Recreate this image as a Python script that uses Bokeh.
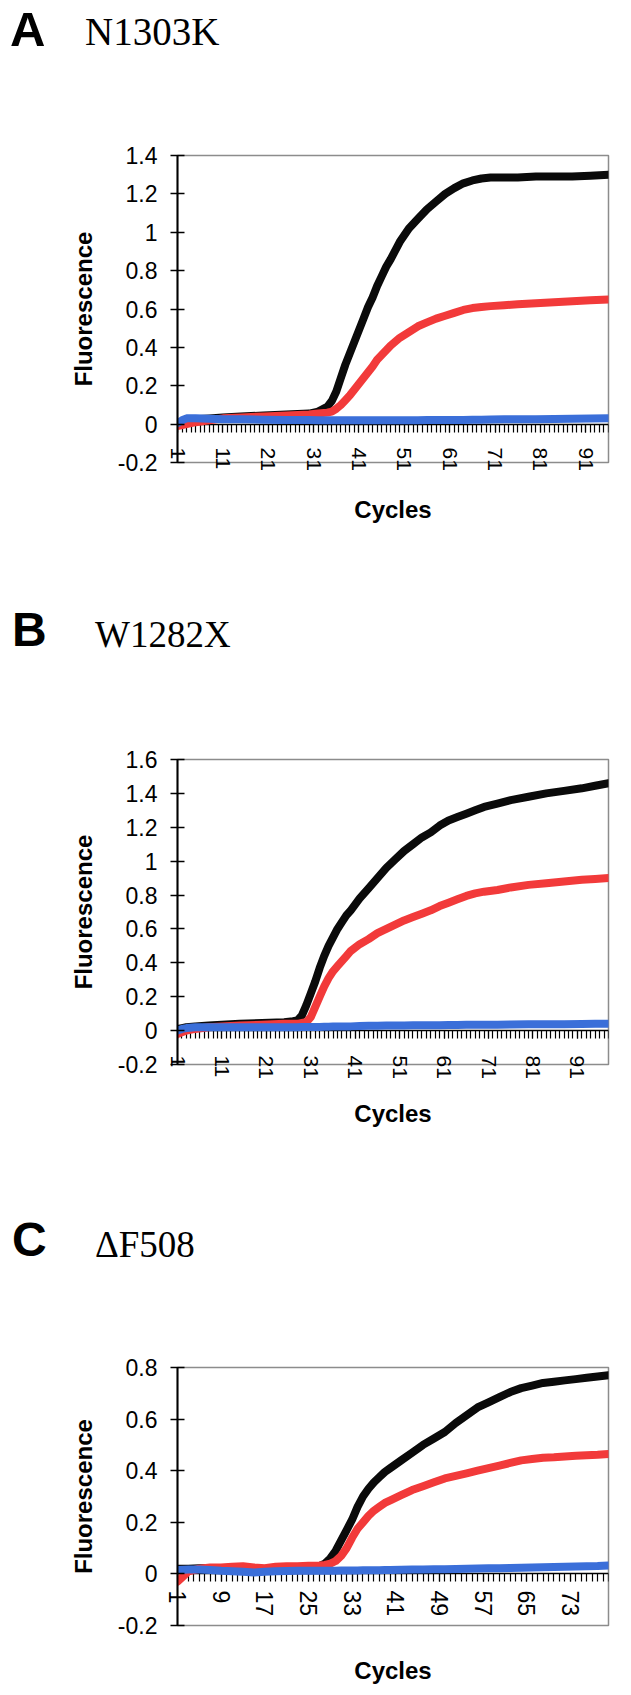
from bokeh.plotting import figure
from bokeh.models import LinearAxis, FixedTicker, CustomJSTickFormatter, Range1d, Div
from bokeh.layouts import column
from bokeh.embed import file_html
from bokeh.resources import INLINE

# ---------------- Panel A : N1303K ----------------
a_cycles = [1, 2, 3, 5, 8, 11, 15, 20, 25, 30, 32, 34, 35, 36, 37, 38, 39, 40, 41, 42,
            43, 44, 45, 46, 47, 48, 50, 52, 54, 56, 58, 60, 62, 64, 66, 68, 70, 73, 76, 80,
            84, 88, 92, 96]
a_black = [0.00, 0.01, 0.02, 0.025, 0.03, 0.035, 0.04, 0.045, 0.05, 0.055,
           0.065, 0.09, 0.12, 0.17, 0.24, 0.31, 0.37, 0.43, 0.49, 0.55,
           0.61, 0.66, 0.72, 0.77, 0.82, 0.86, 0.95, 1.02, 1.07, 1.12,
           1.16, 1.20, 1.23, 1.255, 1.27, 1.28, 1.285, 1.285, 1.285, 1.29,
           1.29, 1.29, 1.295, 1.30]
a_red = [-0.01, -0.005, 0.0, 0.01, 0.02, 0.03, 0.035, 0.04, 0.045, 0.05,
         0.055, 0.06, 0.065, 0.08, 0.10, 0.125, 0.15, 0.18, 0.21, 0.24,
         0.27, 0.30, 0.335, 0.36, 0.385, 0.41, 0.45, 0.48, 0.51, 0.53,
         0.55, 0.565, 0.58, 0.595, 0.605, 0.61, 0.615, 0.62, 0.625, 0.63,
         0.635, 0.64, 0.645, 0.65]
a_blue = [0.005, 0.02, 0.03, 0.03, 0.028, 0.026, 0.025, 0.023, 0.022, 0.021,
          0.02, 0.02, 0.02, 0.02, 0.02, 0.02, 0.02, 0.02, 0.02, 0.02,
          0.02, 0.02, 0.02, 0.02, 0.02, 0.02, 0.02, 0.02, 0.02, 0.021,
          0.021, 0.022, 0.022, 0.022, 0.023, 0.023, 0.024, 0.025, 0.025, 0.026,
          0.027, 0.028, 0.029, 0.03]
a_n_cycles = 96
a_xlabels = [1, 11, 21, 31, 41, 51, 61, 71, 81, 91]
a_yticks = [-0.2, 0, 0.2, 0.4, 0.6, 0.8, 1.0, 1.2, 1.4]

# ---------------- Panel B : W1282X ----------------
b_cycles = [1, 2, 3, 5, 8, 11, 15, 20, 25, 27, 28, 29, 30, 31, 32, 33, 34, 35, 36, 37,
            38, 39, 40, 42, 44, 46, 48, 50, 52, 54, 56, 58, 60, 62, 64, 66, 68, 70, 73, 76,
            80, 84, 88, 92, 95, 98]
b_black = [0.01, 0.015, 0.02, 0.025, 0.03, 0.035, 0.04, 0.045, 0.05, 0.055,
           0.06, 0.09, 0.15, 0.22, 0.29, 0.37, 0.44, 0.50, 0.55, 0.60,
           0.64, 0.68, 0.71, 0.78, 0.84, 0.90, 0.96, 1.01, 1.06, 1.10,
           1.14, 1.17, 1.21, 1.24, 1.26, 1.28, 1.30, 1.32, 1.34, 1.36,
           1.38, 1.40, 1.415, 1.43, 1.445, 1.46]
b_red = [-0.02, -0.01, 0.0, 0.01, 0.02, 0.025, 0.03, 0.035, 0.04, 0.04,
         0.04, 0.045, 0.05, 0.08, 0.14, 0.20, 0.26, 0.31, 0.35, 0.38,
         0.41, 0.44, 0.47, 0.51, 0.54, 0.575, 0.60, 0.625, 0.65, 0.67,
         0.69, 0.71, 0.735, 0.755, 0.775, 0.795, 0.81, 0.82, 0.83, 0.845,
         0.86, 0.87, 0.88, 0.89, 0.895, 0.90]
b_blue = [0.0, 0.01, 0.015, 0.02, 0.02, 0.02, 0.02, 0.02, 0.02, 0.02,
          0.02, 0.021, 0.021, 0.022, 0.022, 0.022, 0.023, 0.023, 0.024, 0.024,
          0.025, 0.025, 0.025, 0.027, 0.028, 0.029, 0.03, 0.03, 0.03, 0.031,
          0.031, 0.032, 0.032, 0.033, 0.033, 0.034, 0.034, 0.035, 0.035, 0.036,
          0.037, 0.037, 0.038, 0.039, 0.04, 0.04]
b_n_cycles = 98
b_xlabels = [1, 11, 21, 31, 41, 51, 61, 71, 81, 91]
b_yticks = [-0.2, 0, 0.2, 0.4, 0.6, 0.8, 1.0, 1.2, 1.4, 1.6]

# ---------------- Panel C : deltaF508 ----------------
c_cycles = [1, 2, 3, 5, 7, 9, 11, 13, 15, 17, 19, 21, 23, 25, 27, 28, 29, 30, 31, 32,
            33, 34, 35, 36, 37, 38, 39, 40, 42, 44, 46, 48, 50, 52, 54, 56, 58, 60, 62, 64,
            66, 68, 70, 72, 74, 76, 78, 80]
c_black = [0.02, 0.02, 0.02, 0.022, 0.022, 0.02, 0.02, 0.018, 0.015, 0.018,
           0.02, 0.022, 0.025, 0.027, 0.03, 0.04, 0.06, 0.09, 0.13, 0.17,
           0.21, 0.26, 0.30, 0.33, 0.355, 0.375, 0.395, 0.41, 0.44, 0.47,
           0.50, 0.525, 0.55, 0.585, 0.615, 0.645, 0.665, 0.685, 0.705, 0.72,
           0.73, 0.74, 0.745, 0.75, 0.755, 0.76, 0.765, 0.77]
c_red = [-0.03, -0.01, 0.01, 0.02, 0.025, 0.025, 0.028, 0.03, 0.025, 0.022,
         0.028, 0.03, 0.03, 0.032, 0.033, 0.035, 0.04, 0.05, 0.07, 0.10,
         0.14, 0.175, 0.20, 0.225, 0.245, 0.26, 0.275, 0.285, 0.305, 0.325,
         0.34, 0.355, 0.37, 0.38, 0.39, 0.40, 0.41, 0.42, 0.43, 0.44,
         0.445, 0.45, 0.452, 0.455, 0.458, 0.46, 0.462, 0.465]
c_blue = [0.015, 0.016, 0.017, 0.017, 0.015, 0.012, 0.01, 0.008, 0.005, 0.008,
          0.01, 0.011, 0.012, 0.012, 0.012, 0.012, 0.012, 0.012, 0.013, 0.013,
          0.013, 0.013, 0.014, 0.014, 0.014, 0.014, 0.015, 0.015, 0.016, 0.017,
          0.017, 0.018, 0.018, 0.019, 0.02, 0.021, 0.022, 0.022, 0.023, 0.024,
          0.025, 0.026, 0.027, 0.028, 0.029, 0.03, 0.031, 0.033]
c_n_cycles = 80
c_xlabels = [1, 9, 17, 25, 33, 41, 49, 57, 65, 73]
c_yticks = [-0.2, 0, 0.2, 0.4, 0.6, 0.8]

BLACK = "#0a0a0a"
RED = "#f23a3a"
BLUE = "#3b6fd9"
SANS = "Liberation Sans"
SERIF = "Liberation Serif"
W = 623


def heading(letter, name, h, lx, ltop, lsize, nx, ntop, nsize):
    html = (
        f'<div style="position:relative;width:{W}px;height:{h}px;overflow:visible;">'
        f'<span style="position:absolute;left:{lx}px;top:{ltop}px;font-family:\'{SANS}\';'
        f'font-weight:bold;font-size:{lsize}px;line-height:0.75;color:black;white-space:nowrap;">{letter}</span>'
        f'<span style="position:absolute;left:{nx}px;top:{ntop}px;font-family:\'{SERIF}\';'
        f'font-size:{nsize}px;line-height:0.75;color:black;white-space:nowrap;">{name}</span>'
        '</div>'
    )
    return Div(text=html, width=W, height=h, margin=(0, 0, 0, 0))


def panel(cyc, blk, red, blu, n_cycles, xlabels, yticks, geom, xlab_size, xlab_standoff, cyc_standoff):
    left, right, top, bottom, height = geom
    p = figure(width=W, height=height, output_backend="svg", toolbar_location=None,
               x_range=Range1d(1, n_cycles), y_range=Range1d(yticks[0], yticks[-1]),
               x_axis_location=None, y_axis_location=None,
               min_border_left=left, min_border_right=right,
               min_border_top=top, min_border_bottom=bottom, margin=(0, 0, 0, 0))
    p.grid.visible = False
    p.background_fill_color = "white"
    p.border_fill_color = "white"
    p.outline_line_color = "#8c8c8c"
    p.outline_line_width = 1.5

    yax = LinearAxis(ticker=FixedTicker(ticks=yticks),
                     formatter=CustomJSTickFormatter(code="return String(Math.round(tick*10)/10);"))
    yax.axis_label = "Fluorescence"
    yax.axis_label_text_font = SANS
    yax.axis_label_text_font_style = "bold"
    yax.axis_label_text_font_size = "24px"
    yax.axis_label_text_color = "black"
    yax.axis_label_standoff = 18
    yax.major_label_text_font = SANS
    yax.major_label_text_font_size = "23px"
    yax.major_label_text_color = "black"
    yax.major_label_standoff = 13
    yax.axis_line_color = "black"
    yax.axis_line_width = 2
    yax.major_tick_in = 7
    yax.major_tick_out = 7
    yax.major_tick_line_color = "black"
    yax.major_tick_line_width = 1.5
    yax.minor_tick_line_color = None
    p.add_layout(yax, "left")

    # category axis line and its ticks, crossing the value axis at zero
    zax = LinearAxis(ticker=FixedTicker(ticks=xlabels, minor_ticks=list(range(1, n_cycles + 1))),
                     formatter=CustomJSTickFormatter(code="return '';"),
                     fixed_location=0)
    zax.major_label_text_font_size = "0px"
    zax.axis_line_color = "black"
    zax.axis_line_width = 1.5
    zax.major_tick_in = 0
    zax.major_tick_out = 8
    zax.minor_tick_in = 0
    zax.minor_tick_out = 8
    zax.major_tick_line_color = "black"
    zax.minor_tick_line_color = "black"
    zax.major_tick_line_width = 1.2
    zax.minor_tick_line_width = 1.2
    zax.level = "underlay"
    p.add_layout(zax, "below")

    # category labels (vertical) and the "Cycles" title
    xax = LinearAxis(ticker=FixedTicker(ticks=xlabels))
    xax.major_label_orientation = "vertical"
    xax.major_label_text_font = SANS
    xax.major_label_text_font_size = xlab_size
    xax.major_label_text_color = "black"
    xax.major_label_standoff = xlab_standoff
    xax.axis_line_color = None
    xax.major_tick_line_color = None
    xax.minor_tick_line_color = None
    xax.major_tick_in = 0
    xax.major_tick_out = 0
    xax.axis_label = "Cycles"
    xax.axis_label_text_font = SANS
    xax.axis_label_text_font_style = "bold"
    xax.axis_label_text_font_size = "24px"
    xax.axis_label_text_color = "black"
    xax.axis_label_standoff = cyc_standoff
    p.add_layout(xax, "below")

    for ys, col in ((blk, BLACK), (red, RED), (blu, BLUE)):
        p.line(cyc, ys, line_color=col, line_width=8, line_cap="round", line_join="round")
    return p


hA = heading("A", "N1303K", 60, 10, 10.6, 49, 85, 17.2, 39)
pA = panel(a_cycles, a_black, a_red, a_blue, a_n_cycles, a_xlabels, a_yticks,
           (167, 5, 95, 118, 520), "21px", -15, 22)
hB = heading("B", "W1282X", 80, 12, 32.4, 48, 95, 40.6, 37)
pB = panel(b_cycles, b_black, b_red, b_blue, b_n_cycles, b_xlabels, b_yticks,
           (172, 15, 99, 116, 520), "21px", -9, 18)
hC = heading("C", "\u0394F508", 90, 12, 42.4, 48, 95, 50.6, 37)
pC = panel(c_cycles, c_black, c_red, c_blue, c_n_cycles, c_xlabels, c_yticks,
           (177, 7, 97, 52, 417), "23px", -35, 38)

layout = column(hA, pA, hB, pB, hC, pC, spacing=0)
open("out.html", "w").write(file_html(layout, INLINE))
